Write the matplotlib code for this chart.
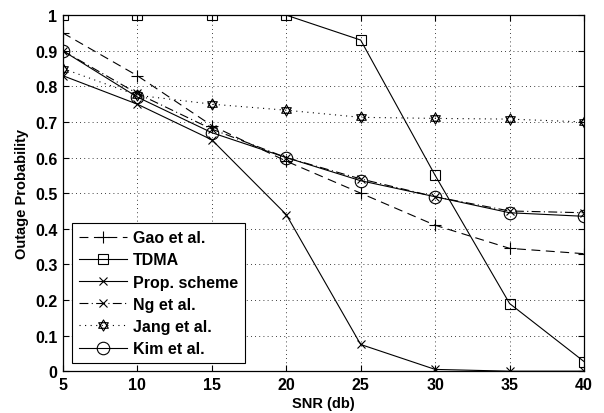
import matplotlib
matplotlib.use("Agg")
import matplotlib.pyplot as plt
from matplotlib.path import Path

# SNR points and outage probabilities
snr = [5, 10, 15, 20, 25, 30, 35, 40]
gao = [0.95, 0.83, 0.69, 0.59, 0.50, 0.41, 0.345, 0.33]
tdma = [1.0, 1.0, 1.0, 1.0, 0.93, 0.55, 0.19, 0.027]
prop = [0.83, 0.75, 0.65, 0.44, 0.075, 0.005, 0.0, 0.0]
ng = [0.90, 0.78, 0.68, 0.60, 0.54, 0.49, 0.45, 0.445]
jang = [0.85, 0.775, 0.75, 0.733, 0.713, 0.71, 0.708, 0.70]
kim = [0.90, 0.77, 0.67, 0.60, 0.535, 0.49, 0.445, 0.435]

# hexagram marker (two overlapping triangles), like matlab 'h'
tri_up = [(0, 1), (-0.866, -0.5), (0.866, -0.5), (0, 1)]
tri_dn = [(0, -1), (-0.866, 0.5), (0.866, 0.5), (0, -1)]
hexagram = Path(tri_up + tri_dn,
                [Path.MOVETO, Path.LINETO, Path.LINETO, Path.CLOSEPOLY] * 2)

plt.rcParams["font.family"] = ["Liberation Sans", "DejaVu Sans"]
plt.rcParams["font.weight"] = "bold"

fig = plt.figure(figsize=(6.04, 4.14), dpi=100)
ax = fig.add_axes([0.104, 0.101, 0.863, 0.860])

lw = 0.8
ax.plot(snr, gao, color="k", ls=(0, (8, 5)), lw=lw, marker="+", ms=9,
        mew=0.8, label="Gao et al.")
ax.plot(snr, tdma, color="k", ls="-", lw=lw, marker="s", ms=7,
        mfc="none", mew=0.8, label="TDMA")
ax.plot(snr, prop, color="k", ls="-", lw=lw, marker="x", ms=6,
        mew=0.8, label="Prop. scheme")
ax.plot(snr, ng, color="k", ls=(0, (8, 3, 1, 3)), lw=lw, marker="x", ms=6,
        mew=0.8, label="Ng et al.")
ax.plot(snr, jang, color="k", ls=(0, (1, 4)), lw=lw, marker=hexagram, ms=8,
        mfc="none", mew=0.8, label="Jang et al.")
ax.plot(snr, kim, color="k", ls="-", lw=lw, marker="o", ms=9,
        mfc="none", mew=0.8, label="Kim et al.")

ax.set_xlim(5, 40)
ax.set_ylim(0, 1)
ax.set_xticks(range(5, 41, 5))
ax.set_yticks([i / 10 for i in range(11)])
ax.set_yticklabels(["0", "0.1", "0.2", "0.3", "0.4", "0.5", "0.6",
                    "0.7", "0.8", "0.9", "1"])
ax.tick_params(direction="in", top=True, right=True, labelsize=11.5,
               length=4, width=0.8, pad=4)
for lab in ax.get_xticklabels() + ax.get_yticklabels():
    lab.set_fontweight("bold")
ax.grid(True, ls=(0, (1, 4)), color="k", lw=0.6)
for s in ax.spines.values():
    s.set_linewidth(0.9)

ax.set_xlabel("SNR (db)", fontsize=10.5, fontweight="bold", labelpad=3)
ax.set_ylabel("Outage Probability", fontsize=10.5, fontweight="bold",
              labelpad=4)

leg = ax.legend(loc="lower left", bbox_to_anchor=(0.017, 0.022),
                borderaxespad=0,
                prop={"size": 11.5, "weight": "bold"}, fancybox=False,
                edgecolor="k", framealpha=1, handlelength=3.0,
                borderpad=0.45, labelspacing=0.45, handletextpad=0.4)
leg.get_frame().set_linewidth(0.8)

fig.savefig("out.png", dpi=100)
